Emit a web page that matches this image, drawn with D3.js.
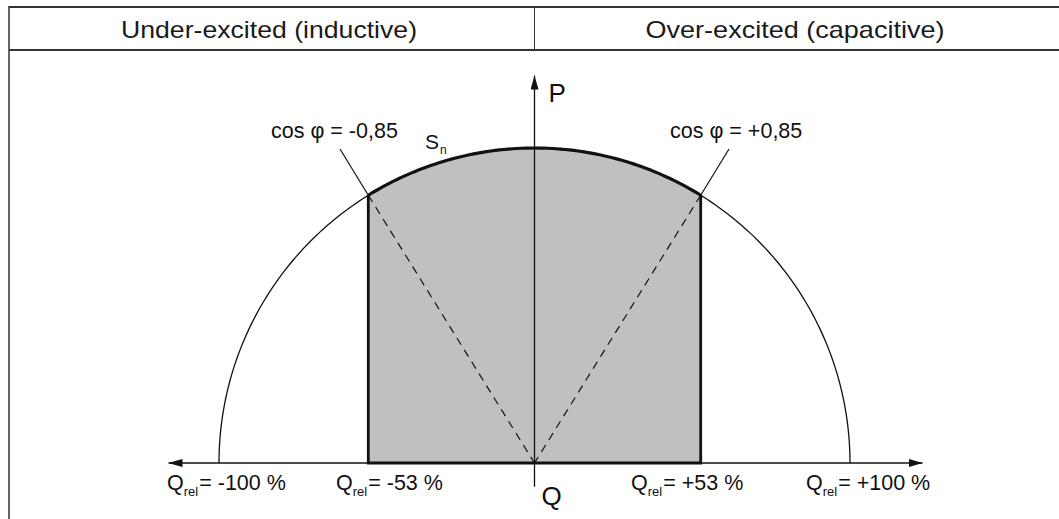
<!DOCTYPE html>
<html><head><meta charset="utf-8">
<script src="https://cdn.jsdelivr.net/npm/d3@7"></script>
<style>body{margin:0;background:#fff}svg{display:block;font-family:"Liberation Sans",Arial,sans-serif}</style>
</head><body><svg id="c" width="1059" height="519"></svg>
<script>
const headers = ["Under-excited (inductive)", "Over-excited (capacitive)"];
const cosPhiLimits = [-0.85, 0.85];
const qMarks = [-100, -53, 53, 100];           // Q_rel in %
const qMarkLabels = ["= -100 %", "= -53 %", "= +53 %", "= +100 %"];
const cosLabels = ["cos φ = -0,85", "cos φ = +0,85"];
const axisRange = {qMin: -116, qMax: 123, pMin: -7.5, pMax: 123};

const svg = d3.select("#c");
const x = d3.scaleLinear().domain([-100, 100]).range([219, 850]);
const y = d3.scaleLinear().domain([0, 100]).range([463, 148]);

// frame
svg.append("line").attr("x1",9).attr("x2",1059).attr("y1",7).attr("y2",7).attr("stroke","#333").attr("stroke-width",2);
svg.append("line").attr("x1",9).attr("x2",1059).attr("y1",50).attr("y2",50).attr("stroke","#333").attr("stroke-width",2);
svg.append("line").attr("x1",9).attr("x2",9).attr("y1",6).attr("y2",519).attr("stroke","#333").attr("stroke-width",1.5);
svg.append("line").attr("x1",x(0)).attr("x2",x(0)).attr("y1",7).attr("y2",50).attr("stroke","#333").attr("stroke-width",1);
svg.selectAll("text.h").data(headers).enter().append("text")
  .attr("x",(d,i)=> i===0 ? 269 : 795).attr("y",38)
  .attr("text-anchor","middle").attr("font-size",24).attr("fill","#1a1a1a")
  .attr("textLength",(d,i)=> i===0 ? 296 : 299).attr("lengthAdjust","spacingAndGlyphs").text(d=>d);

// geometry from cos phi
const sinPhi = cosPhiLimits.map(c => Math.sign(c)*Math.sqrt(1-c*c)*100);
const pCorner = Math.abs(cosPhiLimits[0])*100;
const a0 = Math.atan2(pCorner, sinPhi[0]);
const a1 = Math.atan2(pCorner, sinPhi[1]);

// shaded area
const N = 80;
const arcPts = d3.range(N+1).map(i => {const a = a0 + (a1-a0)*i/N; return [100*Math.cos(a), 100*Math.sin(a)];});
const areaPts = [[sinPhi[0],0]].concat(arcPts).concat([[sinPhi[1],0]]);
const line = d3.line().x(d=>x(d[0])).y(d=>y(d[1]));
svg.append("path").attr("d", line(areaPts)+"Z").attr("fill","#bec0c2").attr("stroke","none");

// thin full half circle
const fullPts = d3.range(181).map(i => {const a = Math.PI*i/180; return [100*Math.cos(a), 100*Math.sin(a)];});
svg.append("path").attr("d", line(fullPts)).attr("fill","none").attr("stroke","#111").attr("stroke-width",1.3);

// arrow markers
const defs = svg.append("defs");
defs.append("marker").attr("id","ar").attr("viewBox","0 0 14 8").attr("refX",14).attr("refY",4)
  .attr("markerWidth",14).attr("markerHeight",8).attr("markerUnits","userSpaceOnUse").attr("orient","auto-start-reverse")
  .append("path").attr("d","M0,0L14,4L0,8Z").attr("fill","#111");

// axes
svg.append("line").attr("x1",x(axisRange.qMin)).attr("x2",x(axisRange.qMax)).attr("y1",y(0)).attr("y2",y(0))
  .attr("stroke","#111").attr("stroke-width",1.3).attr("marker-start","url(#ar)").attr("marker-end","url(#ar)");
svg.append("line").attr("x1",x(0)).attr("x2",x(0)).attr("y1",y(axisRange.pMin)).attr("y2",y(axisRange.pMax))
  .attr("stroke","#111").attr("stroke-width",1.3).attr("marker-end","url(#ar)");

// dashed lines
sinPhi.forEach(q => {
  svg.append("line").attr("x1",x(q)).attr("y1",y(pCorner)).attr("x2",x(0)).attr("y2",y(0))
    .attr("stroke","#111").attr("stroke-width",1.2).attr("stroke-dasharray","8,6");
});

// thick outline
svg.append("path").attr("d", line(arcPts)).attr("fill","none").attr("stroke","#111").attr("stroke-width",3.2);
svg.append("path").attr("d", line([[sinPhi[0],pCorner],[sinPhi[0],0],[sinPhi[1],0],[sinPhi[1],pCorner]]))
  .attr("fill","none").attr("stroke","#111").attr("stroke-width",2.8);

// leader lines and cos labels
[[340, 0], [729, 1]].forEach(([lx, i]) => {
  svg.append("line").attr("x1",lx).attr("y1",149).attr("x2",x(sinPhi[i])).attr("y2",y(pCorner))
    .attr("stroke","#111").attr("stroke-width",1.2);
});
svg.append("text").attr("x",271).attr("y",138).attr("font-size",21.5).attr("fill","#111").text(cosLabels[0]);
svg.append("text").attr("x",670).attr("y",138).attr("font-size",21.5).attr("fill","#111").text(cosLabels[1]);

// Sn
const sn = svg.append("text").attr("x",425).attr("y",149).attr("font-size",21).attr("fill","#111");
sn.append("tspan").text("S");
sn.append("tspan").attr("font-size",12).attr("dx",1).attr("dy",5).text("n");

// P and Q
svg.append("text").attr("x",x(0)+14).attr("y",102).attr("font-size",26).attr("fill","#111").text("P");
svg.append("text").attr("x",x(0)+7).attr("y",505).attr("font-size",26).attr("fill","#111").text("Q");

// Q_rel labels
const labelX = [167, 336, 631, 806];
qMarks.forEach((q, i) => {
  const t = svg.append("text").attr("x",labelX[i]).attr("y",490).attr("font-size",21.5).attr("fill","#111");
  t.append("tspan").text("Q");
  t.append("tspan").attr("font-size",13).attr("dy",6).text("rel");
  t.append("tspan").attr("dy",-6).attr("dx",1).text(qMarkLabels[i]);
});
</script></body></html>
